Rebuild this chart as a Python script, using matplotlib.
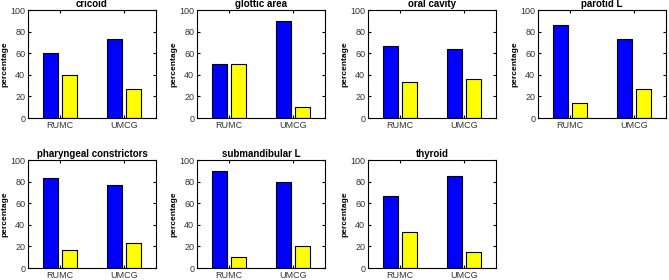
import matplotlib.pyplot as plt
import numpy as np

plt.rcParams['font.family'] = ['Liberation Sans', 'DejaVu Sans']

titles = ["cricoid", "glottic area", "oral cavity", "parotid L",
          "pharyngeal constrictors", "submandibular L", "thyroid"]
sites = ["RUMC", "UMCG"]
# percentage per site: first series (blue), second series (yellow)
blue_vals = [[60, 73], [50, 90], [67, 64], [86, 73], [83, 77], [90, 80], [67, 85]]
yellow_vals = [[40, 27], [50, 10], [33, 36], [14, 27], [17, 23], [10, 20], [33, 15]]

W, H = 669, 280
lefts = [28, 197, 368, 538]
tops = [10, 160]
aw, ah = 128, 108

fig = plt.figure(figsize=(W / 100, H / 100), dpi=100)

for i, title in enumerate(titles):
    row, col = divmod(i, 4)
    ax = fig.add_axes([lefts[col] / W, 1 - (tops[row] + ah) / H, aw / W, ah / H])
    x = np.arange(1, len(sites) + 1)
    bw = 0.24
    ax.bar(x - 0.145, blue_vals[i], bw, color='#0000ff', edgecolor='black', linewidth=0.8)
    ax.bar(x + 0.145, yellow_vals[i], bw, color='#ffff00', edgecolor='black', linewidth=0.8)
    ax.set_xlim(0.5, 2.5)
    ax.set_ylim(0, 100)
    ax.set_yticks([0, 20, 40, 60, 80, 100])
    ax.set_xticks(x)
    ax.set_xticklabels(sites)
    ax.tick_params(direction='in', length=2, labelsize=6.5, top=True, right=True, pad=2,
                   labelcolor='#333333')
    ax.set_ylabel("percentage", fontsize=6, fontweight='bold', labelpad=1)
    ax.set_title(title, fontsize=7, fontweight='bold', pad=2)

plt.savefig("out.png", dpi=100)
